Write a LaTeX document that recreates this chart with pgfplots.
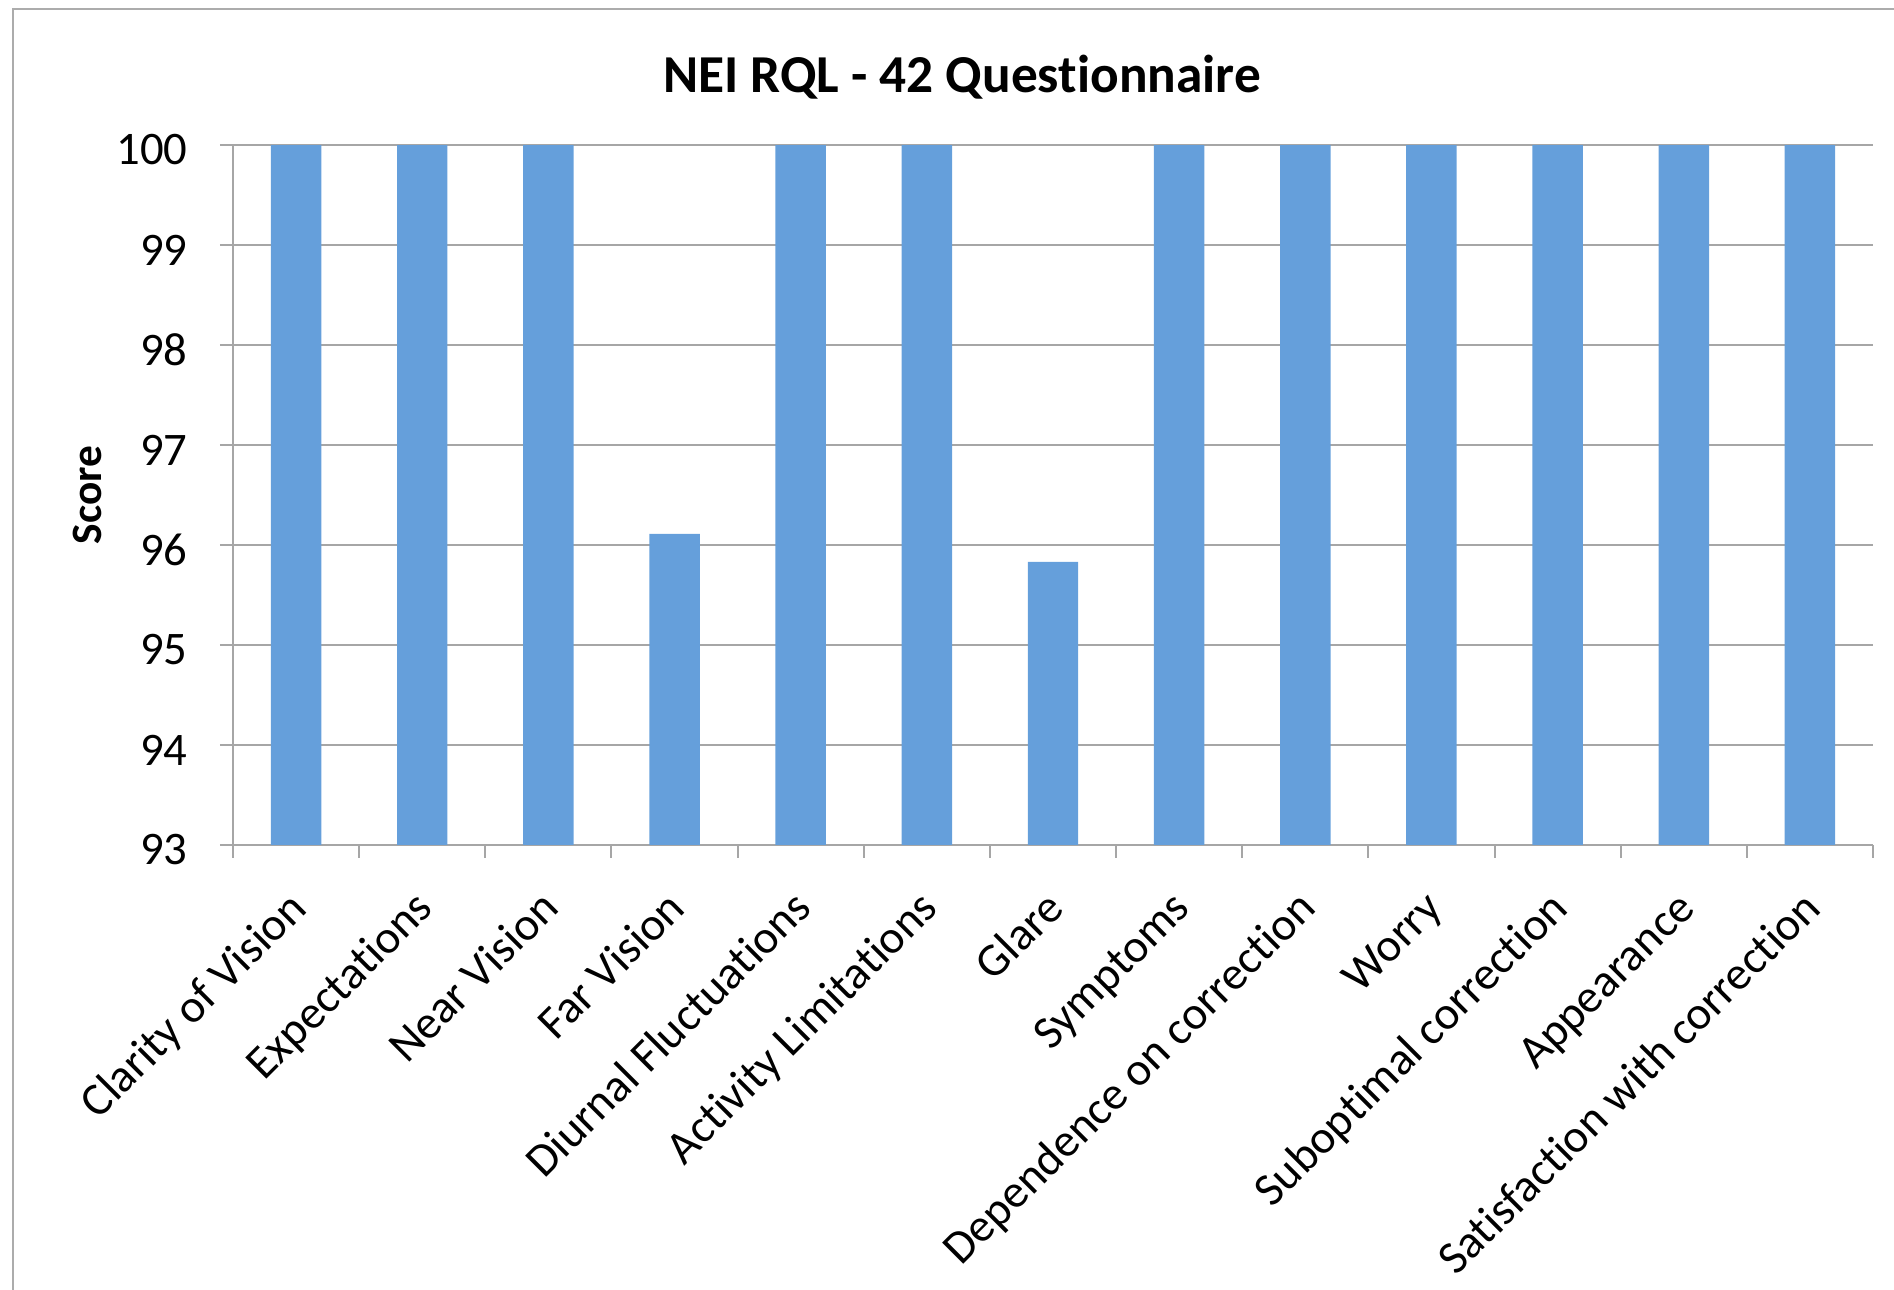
\documentclass[border=0pt]{standalone}
\usepackage{fontspec}
\setmainfont{Carlito}[Ligatures=NoCommon]
\usepackage{pgfplots}
\pgfplotsset{compat=1.18}
\definecolor{barblue}{RGB}{101,159,219}
\definecolor{gridgray}{RGB}{166,166,166}
\definecolor{framegray}{RGB}{172,172,172}
\begin{document}
\begin{tikzpicture}
\path[use as bounding box] (0,0) rectangle (568.2pt,387pt);
\draw[framegray, line width=0.6pt] (3.9pt,-10pt) rectangle (590pt,384.3pt);
\begin{axis}[
  at={(69.9pt,133.5pt)}, anchor=south west,
  scale only axis, width=492pt, height=210pt,
  ymin=93, ymax=100, ytick={93,94,...,100},
  xmin=0.5, xmax=13.5,
  xtick={0.5,1.5,...,13.5},
  x tick label as interval,
  xticklabels={Clarity of Vision,Expectations,Near Vision,Far Vision,Diurnal Fluctuations,Activity Limitations,Glare,Symptoms,Dependence on correction,Worry,Suboptimal correction,Appearance,Satisfaction with correction},
  axis lines*=left,
  axis line style={gridgray, line width=0.6pt},
  tick style={gridgray, line width=0.6pt},
  tick align=outside, major tick length=3.9pt,
  ymajorgrids, grid style={gridgray, line width=0.6pt},
  /pgf/number format/assume math mode=true,
  yticklabel style={font=\fontsize{14}{17}\selectfont, anchor=east, inner sep=0pt, xshift=-9.6pt, yshift=-1.5pt},
  xticklabel style={font=\fontsize{14}{17}\selectfont, xshift=-1.5pt, yshift=-10.2pt, rotate=45, anchor=north east, inner sep=0pt, text height=0.75em},
  ylabel={\textbf{Score}},
  ylabel style={font=\fontsize{13}{16}\selectfont, at={(axis description cs:-0.089,0.5)}, anchor=center},
  title={\textbf{NEI RQL - 42 Questionnaire}},
  title style={font=\fontsize{16}{19}\selectfont, at={(axis description cs:0.4445,1.047)}, anchor=base},
  clip=true,
]
\addplot[ybar, bar width=0.4, fill=barblue, draw=none] coordinates {
  (1,100) (2,100) (3,100) (4,96.11) (5,100) (6,100) (7,95.83)
  (8,100) (9,100) (10,100) (11,100) (12,100) (13,100)
};
\end{axis}
\end{tikzpicture}
\end{document}
